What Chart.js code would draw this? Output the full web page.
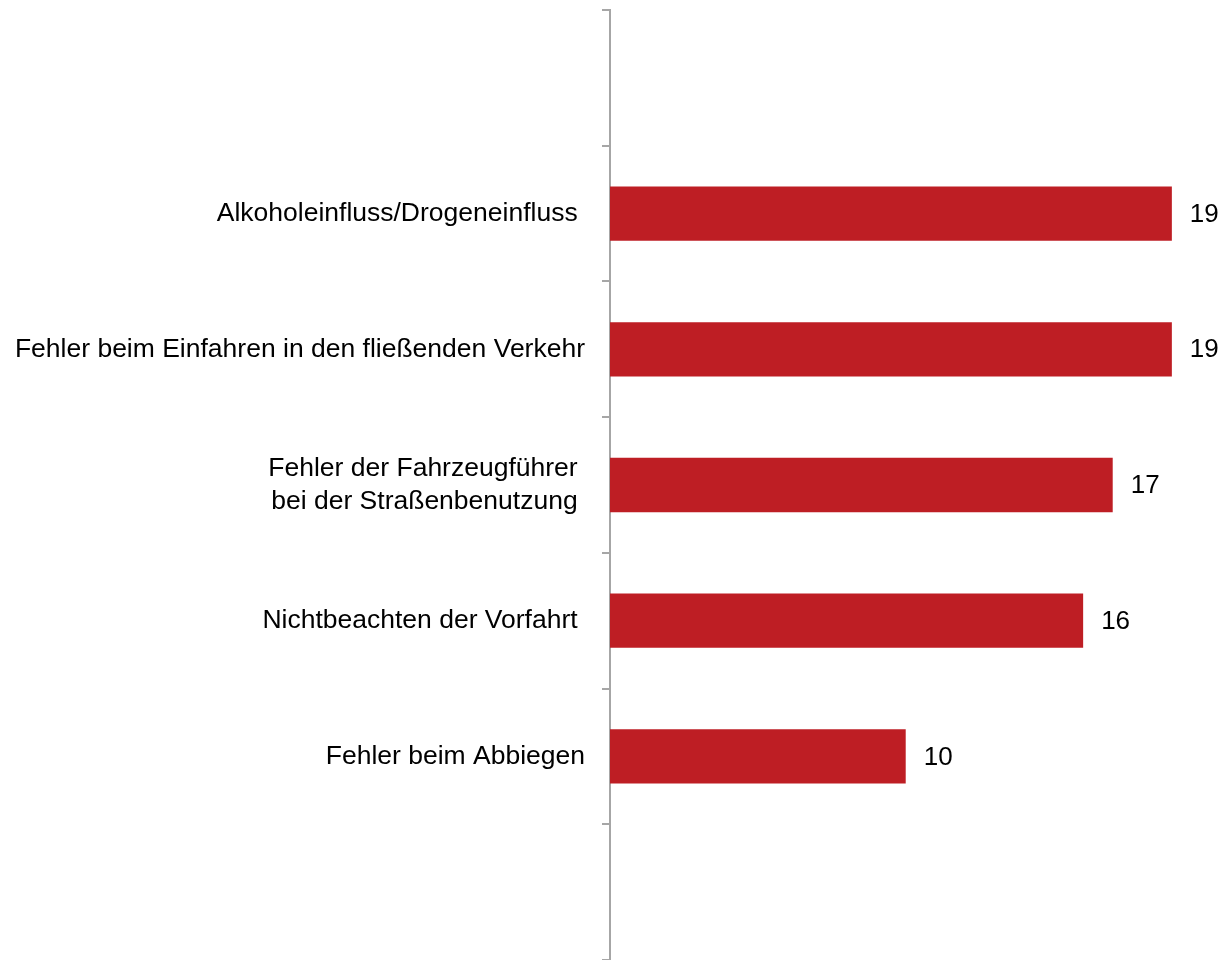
<!DOCTYPE html>
<html lang="de">
  <head>
    <meta charset="UTF-8" />
    <title>Unfallursachen</title>
    <script src="https://cdn.jsdelivr.net/npm/chart.js"></script>
    <style>
      html, body { margin: 0; padding: 0; background: #fff; }
      #wrap { width: 1232px; height: 960px; }
    </style>
  </head>
  <body>
    <div id="wrap"><canvas id="causeChart"></canvas></div>

    <script>
      // Kategorien (erste und letzte Zeile leer wie im Original)
      const categories = [
        "",
        "Alkoholeinfluss/Drogeneinfluss ",
        "Fehler beim Einfahren in den fließenden Verkehr",
        ["Fehler der Fahrzeugführer ", "bei der Straßenbenutzung "],
        "Nichtbeachten der Vorfahrt ",
        "Fehler beim Abbiegen",
        "",
      ];
      const values = [null, 19, 19, 17, 16, 10, null];
      const xMax = 21;

      const barRed = "#BE1E24";
      const axisGray = "#A6A6A6";
      const fontFamily = "Arial, 'Liberation Sans', sans-serif";

      // Werte rechts neben den Balken
      const valueLabels = {
        id: "valueLabels",
        afterDatasetsDraw(chart) {
          const ctx = chart.ctx;
          const meta = chart.getDatasetMeta(0);
          ctx.save();
          ctx.font = "26px " + fontFamily;
          ctx.fillStyle = "#000";
          ctx.textAlign = "left";
          ctx.textBaseline = "middle";
          meta.data.forEach((bar, i) => {
            if (values[i] == null) return;
            ctx.fillText(String(values[i]), bar.x + 18, bar.y + 1);
          });
          ctx.restore();
        },
      };

      const ctx = document.getElementById("causeChart").getContext("2d");
      new Chart(ctx, {
        type: "bar",
        data: {
          labels: categories,
          datasets: [
            {
              label: "Anzahl",
              data: values,
              backgroundColor: barRed,
              borderWidth: 0,
              barPercentage: 0.4,
              categoryPercentage: 1,
            },
          ],
        },
        options: {
          indexAxis: "y",
          responsive: true,
          maintainAspectRatio: false,
          animation: false,
          layout: { padding: { top: 10, right: 1, bottom: 0, left: 0 } },
          plugins: {
            legend: { display: false },
            tooltip: { enabled: false },
          },
          scales: {
            x: {
              display: false,
              min: 0,
              max: xMax,
            },
            y: {
              afterFit(scale) {
                scale.width = 610;
                scale.paddingTop = 0;
                scale.paddingBottom = 0;
              },
              border: { display: true, color: axisGray, width: 2 },
              grid: {
                offset: true,
                drawOnChartArea: false,
                drawTicks: true,
                tickLength: 8,
                color: axisGray,
                lineWidth: 2,
              },
              ticks: {
                padding: 17,
                color: "#000",
                font: { family: fontFamily, size: 26.5, lineHeight: 1.25 },
                autoSkip: false,
              },
            },
          },
        },
        plugins: [valueLabels],
      });
    </script>
  </body>
</html>
